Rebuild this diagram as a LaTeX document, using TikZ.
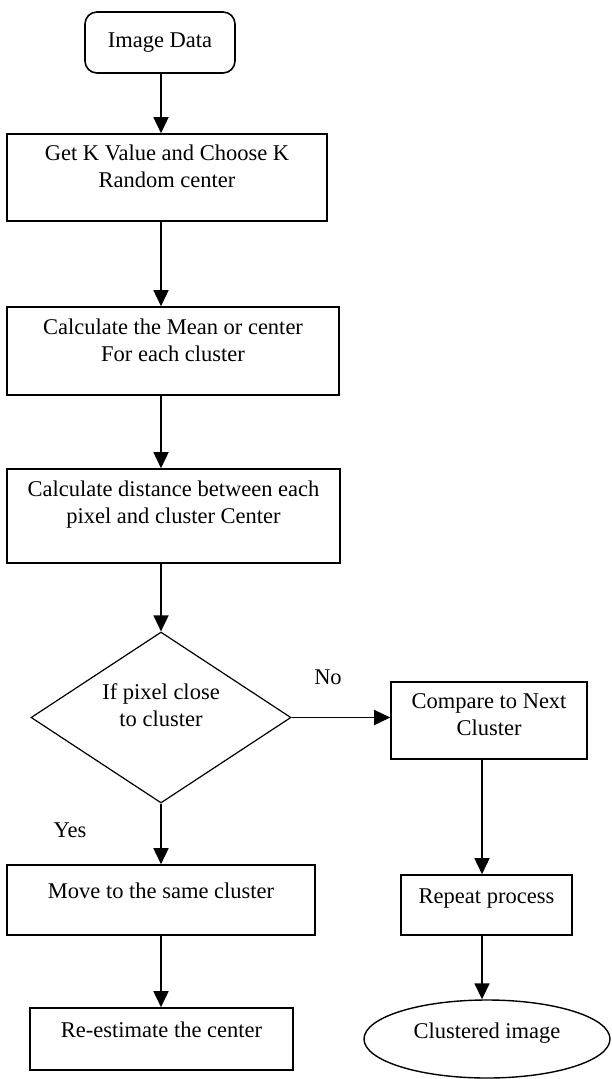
\documentclass[tikz,border=0pt]{standalone}
\usepackage{fontspec}
\setmainfont{Liberation Serif}
\usepackage{xcolor}
\usepackage{tikz}
\usetikzlibrary{shapes,arrows.meta,positioning}

\begin{document}
\begin{tikzpicture}[
        x=1pt, y=-1pt,
        every node/.style={font=\fontsize{22.5}{27}\selectfont, align=center, inner sep=0pt},
        box/.style={draw, rectangle, line width=1.6pt},
        terminal/.style={draw, rectangle, rounded corners=12pt, line width=1.6pt},
        decision/.style={draw, diamond, aspect=1.5, line width=1.2pt, minimum width=260pt, minimum height=171pt},
        outcome/.style={draw, ellipse, line width=1.4pt},
        flow/.style={line width=1.6pt, -{Triangle[width=15pt,length=16pt]}}]

    \useasboundingbox (0,0) rectangle (611,1079);

    % columns of the arrows
    \coordinate (lcol) at (161,0);
    \coordinate (rcol) at (482,0);

    % left column
    \node[terminal, minimum width=150pt, minimum height=61pt] (imgdata) at (160,42.5) {Image Data};
    \node[box, minimum width=320pt, minimum height=87pt, text depth=23pt] (getk) at (167,177.5) {Get K Value and Choose K\\Random center};
    \node[box, minimum width=332pt, minimum height=88pt, text depth=22pt] (mean) at (173,351) {Calculate the Mean or center\\For each cluster};
    \node[box, minimum width=333pt, minimum height=94pt, text depth=27pt] (dist) at (173.5,516) {Calculate distance between each\\pixel and cluster Center};
    \node[decision, text depth=25pt] (check) at (161,717.5) {If pixel close\\to cluster};
    \node[box, minimum width=308pt, minimum height=70pt, text depth=19pt] (move) at (161,900) {Move to the same cluster};
    \node[box, minimum width=263pt, minimum height=62pt, text depth=19pt] (reest) at (161.5,1039) {Re-estimate the center};

    % right column
    \node[box, minimum width=196pt, minimum height=77pt, text depth=11pt] (compare) at (489,720.5) {Compare to Next\\Cluster};
    \node[box, minimum width=171pt, minimum height=60pt, text depth=17pt] (repeat) at (486.5,905) {Repeat process};
    \node[outcome, minimum width=246pt, minimum height=78pt, text depth=17pt] (clustered) at (487,1039) {Clustered image};

    \node (nolbl) at (328,677) {No};
    \node (yeslbl) at (70,830) {Yes};

    % arrows
    \draw[flow] (imgdata.south -| lcol) -- (getk.north -| lcol);
    \draw[flow] (getk.south -| lcol) -- (mean.north -| lcol);
    \draw[flow] (mean.south -| lcol) -- (dist.north -| lcol);
    \draw[flow] (dist.south -| lcol) -- (check.north);
    \draw[flow] (check.south) -- (move.north -| lcol);
    \draw[flow] (move.south -| lcol) -- (reest.north -| lcol);
    \draw[flow] (check.east) -- (compare.west |- check.east);
    \draw[flow] (compare.south -| rcol) -- (repeat.north -| rcol);
    \draw[flow] (repeat.south -| rcol) -- (clustered.north -| rcol);
\end{tikzpicture}
\end{document}
